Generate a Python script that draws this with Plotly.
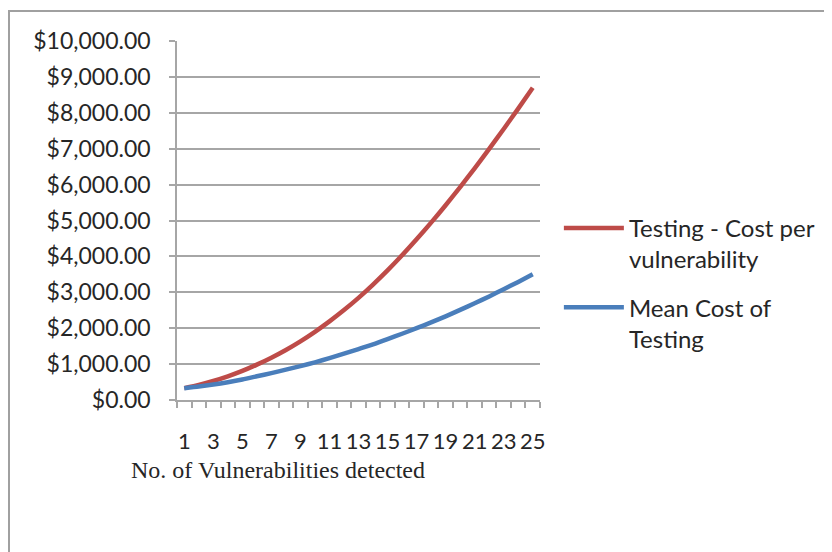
import plotly.graph_objects as go

# Data
vulnerabilities = list(range(1, 26))
cost_per_vulnerability = [330, 420, 530, 660, 810, 985, 1180, 1395, 1635, 1900,
                          2190, 2505, 2845, 3215, 3610, 4030, 4475, 4940, 5425, 5930,
                          6455, 6995, 7550, 8115, 8700]
mean_cost_testing = [330, 375, 430, 495, 570, 660, 750, 845, 945, 1050,
                     1165, 1290, 1420, 1550, 1695, 1845, 2000, 2160, 2330, 2510,
                     2695, 2885, 3085, 3290, 3500]
series_names = ["Testing - Cost per<br>vulnerability", "Mean Cost of<br>Testing"]
series_colors = ["#BE4B48", "#4A7EBB"]
x_tick_labels = [str(v) for v in range(1, 26, 2)]
x_title = "No. of Vulnerabilities detected"

FONT = "Lato"
TXT = "#262626"
GRID = "#a6a6a6"

fig = go.Figure()
for name, vals, col, grp in [(series_names[0], cost_per_vulnerability, series_colors[0], "a"),
                             (series_names[1], mean_cost_testing, series_colors[1], "b")]:
    fig.add_trace(go.Scatter(x=vulnerabilities, y=vals, mode="lines", name=name,
                             legendgroup=grp,
                             line=dict(color=col, width=4.5, shape="spline", smoothing=0.6)))

# page is offset by ~8px; plot area in figure px: x 169..532, y 33..392
fig.update_layout(
    width=832, height=552,
    margin=dict(l=169, r=300, t=33, b=160, autoexpand=False),
    paper_bgcolor="white", plot_bgcolor="white",
    font=dict(family=FONT, size=22, color=TXT),
    showlegend=True,
    legend=dict(x=1.052, y=0.325, xanchor="left", yanchor="middle",
                valign="top", traceorder="grouped", tracegroupgap=14,
                font=dict(family=FONT, size=24, color=TXT),
                bgcolor="rgba(0,0,0,0)", itemwidth=60),
    xaxis=dict(range=[0.5, 25.5], tickmode="array", tickvals=list(range(1, 26, 2)),
               ticktext=x_tick_labels, ticks="", showgrid=False, zeroline=False,
               showline=True, linecolor=GRID, linewidth=1.5,
               ticklabelstandoff=21,
               tickfont=dict(family=FONT, size=22, color=TXT),
               minor=dict(tickmode="linear", tick0=0.5, dtick=1, ticks="outside",
                          ticklen=6, tickcolor=GRID, tickwidth=1.5, showgrid=False)),
    yaxis=dict(range=[0, 10000], dtick=1000, tickformat="$,.2f",
               showgrid=True, gridcolor=GRID, gridwidth=1.5, zeroline=False,
               showline=True, linecolor=GRID, linewidth=1.5,
               ticks="outside", ticklen=6, tickcolor=GRID, tickwidth=1.5,
               ticklabelstandoff=14,
               tickfont=dict(family=FONT, size=23, color=TXT)),
    shapes=[dict(type="rect", xref="paper", yref="paper",
                 x0=-0.4628, x1=1.85, y0=-0.47, y1=1.0836,
                 line=dict(color="#a0a0a0", width=2), fillcolor="rgba(0,0,0,0)", layer="below")],
    annotations=[dict(text=x_title, xref="paper", yref="paper", x=0.278, y=-0.195,
                      xanchor="center", yanchor="middle", showarrow=False,
                      font=dict(family="Liberation Serif", size=24, color=TXT))],
)

fig.write_html("out.html")
